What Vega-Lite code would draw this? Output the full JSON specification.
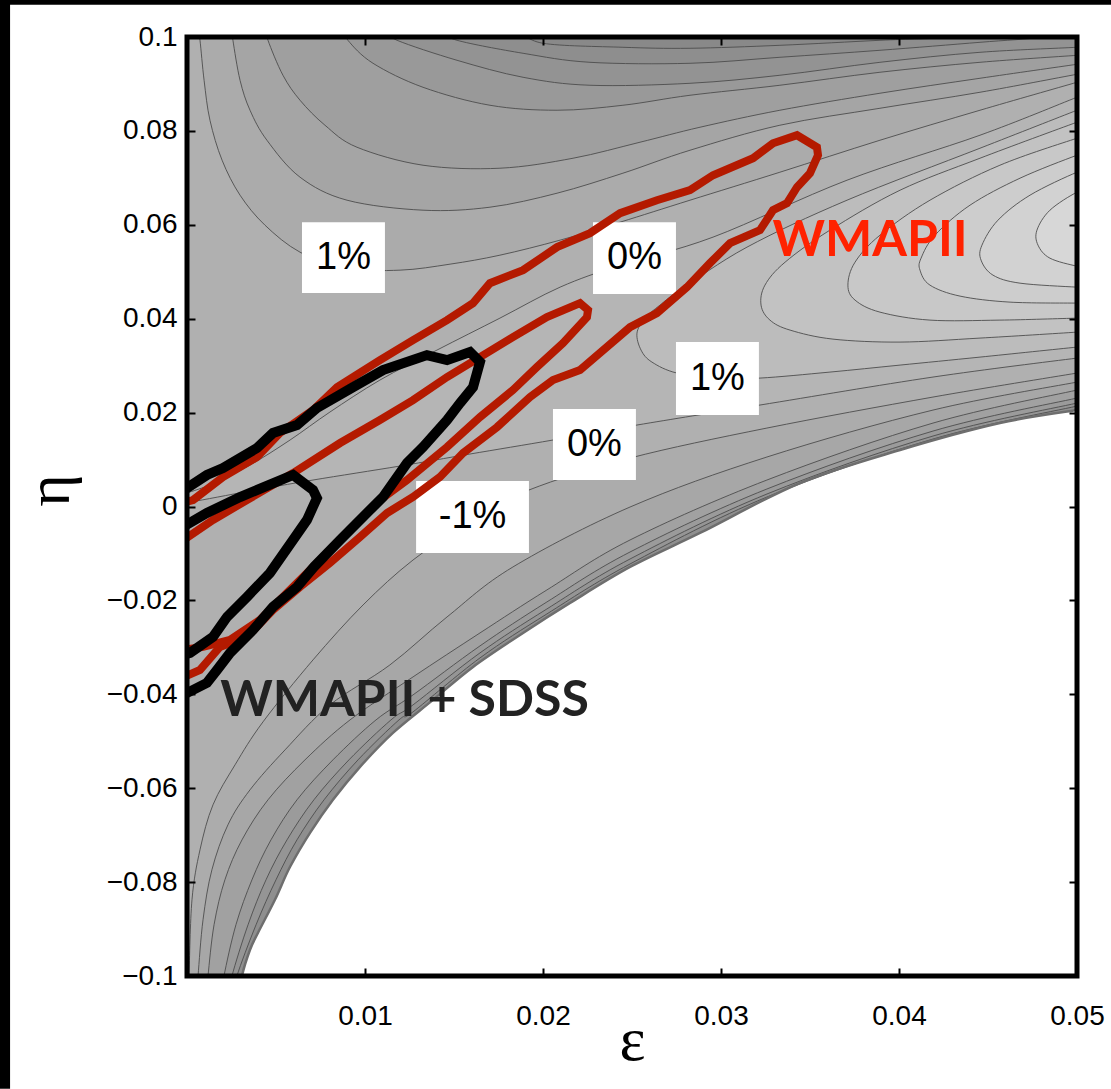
{
"$schema": "https://vega.github.io/schema/vega-lite/v6.json",
"width": 890, "height": 939,
"autosize": {"type": "none"},
"padding": {"left": 187, "top": 37, "right": 34, "bottom": 113},
"background": "white",
"config": {"view": {"stroke": null, "fill": "#b5b5b5"}},
"resolve": {"axis": {"x": "independent", "y": "independent"}},
"datasets": {
"cont": [
{"s":"L8","i":0,"x":-0.00096,"y":0.00181},{"s":"L8","i":1,"x":0.00129,"y":0.00458},{"s":"L8","i":2,"x":0.00354,"y":0.00883},{"s":"L8","i":3,"x":0.00579,"y":0.01416},{"s":"L8","i":4,"x":0.00803,"y":0.02012},{"s":"L8","i":5,"x":0.01084,"y":0.02693},{"s":"L8","i":6,"x":0.01404,"y":0.03331},{"s":"L8","i":7,"x":0.01758,"y":0.04012},{"s":"L8","i":8,"x":0.02096,"y":0.04672},{"s":"L8","i":9,"x":0.02433,"y":0.0514},{"s":"L8","i":10,"x":0.02955,"y":0.05737},{"s":"L8","i":11,"x":0.03708,"y":0.0695},{"s":"L8","i":12,"x":0.04455,"y":0.07908},{"s":"L8","i":13,"x":0.05,"y":0.08717},{"s":"L8","i":14,"x":0.05073,"y":0.08823},{"s":"L8","i":15,"x":0.05129,"y":0.10355,"k":1},{"s":"L8","i":16,"x":-0.00096,"y":0.10355,"k":1},
{"s":"c1","i":0,"x":0.00062,"y":0.10143},{"s":"c1","i":1,"x":0.00073,"y":0.0993},{"s":"c1","i":2,"x":0.00096,"y":0.09078},{"s":"c1","i":3,"x":0.00129,"y":0.08227},{"s":"c1","i":4,"x":0.00197,"y":0.07376},{"s":"c1","i":5,"x":0.00298,"y":0.06631},{"s":"c1","i":6,"x":0.00438,"y":0.05992},{"s":"c1","i":7,"x":0.00635,"y":0.05417},{"s":"c1","i":8,"x":0.00888,"y":0.05076},{"s":"c1","i":9,"x":0.01197,"y":0.05034},{"s":"c1","i":10,"x":0.01478,"y":0.05162},{"s":"c1","i":11,"x":0.01758,"y":0.05353},{"s":"c1","i":12,"x":0.02096,"y":0.05673},{"s":"c1","i":13,"x":0.02433,"y":0.06056},{"s":"c1","i":14,"x":0.02826,"y":0.06524},{"s":"c1","i":15,"x":0.03331,"y":0.0712},{"s":"c1","i":16,"x":0.03893,"y":0.07801},{"s":"c1","i":17,"x":0.04455,"y":0.0844},{"s":"c1","i":18,"x":0.05,"y":0.09036},{"s":"c1","i":19,"x":0.05073,"y":0.09121},{"s":"c1","i":20,"x":0.05129,"y":0.10355,"k":1},
{"s":"c2","i":0,"x":0.00253,"y":0.10143},{"s":"c2","i":1,"x":0.00258,"y":0.0993},{"s":"c2","i":2,"x":0.00298,"y":0.09078},{"s":"c2","i":3,"x":0.00354,"y":0.0844},{"s":"c2","i":4,"x":0.00449,"y":0.07801},{"s":"c2","i":5,"x":0.00635,"y":0.07014},{"s":"c2","i":6,"x":0.00899,"y":0.06524},{"s":"c2","i":7,"x":0.01326,"y":0.06311},{"s":"c2","i":8,"x":0.01702,"y":0.06375},{"s":"c2","i":9,"x":0.02079,"y":0.06673},{"s":"c2","i":10,"x":0.02449,"y":0.07099},{"s":"c2","i":11,"x":0.02826,"y":0.07588},{"s":"c2","i":12,"x":0.03331,"y":0.08121},{"s":"c2","i":13,"x":0.03893,"y":0.08482},{"s":"c2","i":14,"x":0.04455,"y":0.08823},{"s":"c2","i":15,"x":0.05,"y":0.09206},{"s":"c2","i":16,"x":0.05073,"y":0.09249},{"s":"c2","i":17,"x":0.05129,"y":0.10355,"k":1},
{"s":"c3","i":0,"x":0.00449,"y":0.10143},{"s":"c3","i":1,"x":0.00455,"y":0.0993},{"s":"c3","i":2,"x":0.00539,"y":0.09185},{"s":"c3","i":3,"x":0.00635,"y":0.08653},{"s":"c3","i":4,"x":0.00775,"y":0.08121},{"s":"c3","i":5,"x":0.00955,"y":0.07652},{"s":"c3","i":6,"x":0.01326,"y":0.07269},{"s":"c3","i":7,"x":0.01758,"y":0.07205},{"s":"c3","i":8,"x":0.02169,"y":0.07418},{"s":"c3","i":9,"x":0.02545,"y":0.07759},{"s":"c3","i":10,"x":0.02882,"y":0.08078},{"s":"c3","i":11,"x":0.03331,"y":0.0844},{"s":"c3","i":12,"x":0.03893,"y":0.08802},{"s":"c3","i":13,"x":0.04455,"y":0.09121},{"s":"c3","i":14,"x":0.05,"y":0.09419},{"s":"c3","i":15,"x":0.05073,"y":0.09461},{"s":"c3","i":16,"x":0.05129,"y":0.10355,"k":1},
{"s":"c4","i":0,"x":0.00888,"y":0.10143},{"s":"c4","i":1,"x":0.00904,"y":0.0993},{"s":"c4","i":2,"x":0.01045,"y":0.0944},{"s":"c4","i":3,"x":0.01326,"y":0.08929},{"s":"c4","i":4,"x":0.01702,"y":0.08546},{"s":"c4","i":5,"x":0.02079,"y":0.0844},{"s":"c4","i":6,"x":0.02449,"y":0.08546},{"s":"c4","i":7,"x":0.02826,"y":0.08759},{"s":"c4","i":8,"x":0.03331,"y":0.08972},{"s":"c4","i":9,"x":0.03893,"y":0.09249},{"s":"c4","i":10,"x":0.04455,"y":0.09461},{"s":"c4","i":11,"x":0.05,"y":0.0961},{"s":"c4","i":12,"x":0.05073,"y":0.09632},{"s":"c4","i":13,"x":0.05129,"y":0.10355,"k":1},
{"s":"c5","i":0,"x":0.01112,"y":0.10143},{"s":"c5","i":1,"x":0.0118,"y":0.0993},{"s":"c5","i":2,"x":0.01517,"y":0.09504},{"s":"c5","i":3,"x":0.01888,"y":0.09142},{"s":"c5","i":4,"x":0.02264,"y":0.08972},{"s":"c5","i":5,"x":0.02826,"y":0.09014},{"s":"c5","i":6,"x":0.03331,"y":0.09185},{"s":"c5","i":7,"x":0.03893,"y":0.09461},{"s":"c5","i":8,"x":0.04455,"y":0.09674},{"s":"c5","i":9,"x":0.05,"y":0.09781},{"s":"c5","i":10,"x":0.05073,"y":0.09802},{"s":"c5","i":11,"x":0.05129,"y":0.10355,"k":1},
{"s":"c6","i":0,"x":0.01421,"y":0.10143},{"s":"c6","i":1,"x":0.01517,"y":0.0993},{"s":"c6","i":2,"x":0.01888,"y":0.09653},{"s":"c6","i":3,"x":0.02264,"y":0.09461},{"s":"c6","i":4,"x":0.02826,"y":0.0944},{"s":"c6","i":5,"x":0.03331,"y":0.09568},{"s":"c6","i":6,"x":0.03893,"y":0.09717},{"s":"c6","i":7,"x":0.04455,"y":0.09887},{"s":"c6","i":8,"x":0.04792,"y":0.09994},{"s":"c6","i":9,"x":0.04904,"y":0.10143},
{"s":"c7","i":0,"x":0.01871,"y":0.10143},{"s":"c7","i":1,"x":0.02,"y":0.09866},{"s":"c7","i":2,"x":0.02449,"y":0.09781},{"s":"c7","i":3,"x":0.02826,"y":0.0976},{"s":"c7","i":4,"x":0.03331,"y":0.09823},{"s":"c7","i":5,"x":0.03893,"y":0.0993},{"s":"c7","i":6,"x":0.0427,"y":0.09994},{"s":"c7","i":7,"x":0.04343,"y":0.10143},
{"s":"Z0","i":0,"x":-0.00096,"y":0.00075},{"s":"Z0","i":1,"x":0.00017,"y":0.00096},{"s":"Z0","i":2,"x":0.00354,"y":0.0033},{"s":"Z0","i":3,"x":0.00708,"y":0.00564},{"s":"Z0","i":4,"x":0.01197,"y":0.00862},{"s":"Z0","i":5,"x":0.0159,"y":0.01118},{"s":"Z0","i":6,"x":0.02056,"y":0.01416},{"s":"Z0","i":7,"x":0.02528,"y":0.01735},{"s":"Z0","i":8,"x":0.03219,"y":0.02161},{"s":"Z0","i":9,"x":0.04191,"y":0.02757},{"s":"Z0","i":10,"x":0.05,"y":0.03161},{"s":"Z0","i":11,"x":0.05073,"y":0.03182},{"s":"Z0","i":12,"x":0.05129,"y":-0.10505,"k":1},{"s":"Z0","i":13,"x":-0.00096,"y":-0.10505,"k":1},
{"s":"Z1","i":0,"x":0.00006,"y":-0.10292},{"s":"Z1","i":1,"x":0.00011,"y":-0.09994},{"s":"Z1","i":2,"x":0.00028,"y":-0.08376},{"s":"Z1","i":3,"x":0.00073,"y":-0.07312},{"s":"Z1","i":4,"x":0.00146,"y":-0.06354},{"s":"Z1","i":5,"x":0.0027,"y":-0.05502},{"s":"Z1","i":6,"x":0.00427,"y":-0.04587},{"s":"Z1","i":7,"x":0.00708,"y":-0.03267},{"s":"Z1","i":8,"x":0.00989,"y":-0.02097},{"s":"Z1","i":9,"x":0.0127,"y":-0.01139},{"s":"Z1","i":10,"x":0.01601,"y":-0.00287},{"s":"Z1","i":11,"x":0.01921,"y":0.00351},{"s":"Z1","i":12,"x":0.02489,"y":0.01032},{"s":"Z1","i":13,"x":0.03258,"y":0.01671},{"s":"Z1","i":14,"x":0.04191,"y":0.02331},{"s":"Z1","i":15,"x":0.05,"y":0.02842},{"s":"Z1","i":16,"x":0.05073,"y":0.02884},{"s":"Z1","i":17,"x":0.05129,"y":-0.10505,"k":1},
{"s":"Z2","i":0,"x":0.00056,"y":-0.10292},{"s":"Z2","i":1,"x":0.00062,"y":-0.09994},{"s":"Z2","i":2,"x":0.0009,"y":-0.08802},{"s":"Z2","i":3,"x":0.0014,"y":-0.07737},{"s":"Z2","i":4,"x":0.0023,"y":-0.0678},{"s":"Z2","i":5,"x":0.00354,"y":-0.06035},{"s":"Z2","i":6,"x":0.00551,"y":-0.05183},{"s":"Z2","i":7,"x":0.00803,"y":-0.04225},{"s":"Z2","i":8,"x":0.0114,"y":-0.03374},{"s":"Z2","i":9,"x":0.01461,"y":-0.02352},{"s":"Z2","i":10,"x":0.01831,"y":-0.01288},{"s":"Z2","i":11,"x":0.02489,"y":-0.00011},{"s":"Z2","i":12,"x":0.03258,"y":0.01054},{"s":"Z2","i":13,"x":0.04191,"y":0.02054},{"s":"Z2","i":14,"x":0.05,"y":0.0265},{"s":"Z2","i":15,"x":0.05073,"y":0.02693},{"s":"Z2","i":16,"x":0.05129,"y":-0.10505,"k":1},
{"s":"Z3","i":0,"x":0.00112,"y":-0.10292},{"s":"Z3","i":1,"x":0.00118,"y":-0.09994},{"s":"Z3","i":2,"x":0.00152,"y":-0.08908},{"s":"Z3","i":3,"x":0.00213,"y":-0.0795},{"s":"Z3","i":4,"x":0.00309,"y":-0.07099},{"s":"Z3","i":5,"x":0.00455,"y":-0.06247},{"s":"Z3","i":6,"x":0.00663,"y":-0.05396},{"s":"Z3","i":7,"x":0.00916,"y":-0.04545},{"s":"Z3","i":8,"x":0.0127,"y":-0.03629},{"s":"Z3","i":9,"x":0.01646,"y":-0.02693},{"s":"Z3","i":10,"x":0.02022,"y":-0.01777},{"s":"Z3","i":11,"x":0.02489,"y":-0.00713},{"s":"Z3","i":12,"x":0.03258,"y":0.00564},{"s":"Z3","i":13,"x":0.04191,"y":0.01777},{"s":"Z3","i":14,"x":0.05,"y":0.0248},{"s":"Z3","i":15,"x":0.05073,"y":0.02522},{"s":"Z3","i":16,"x":0.05129,"y":-0.10505,"k":1},
{"s":"Z4","i":0,"x":0.00202,"y":-0.10292},{"s":"Z4","i":1,"x":0.00208,"y":-0.09994},{"s":"Z4","i":2,"x":0.00275,"y":-0.08908},{"s":"Z4","i":3,"x":0.00365,"y":-0.0795},{"s":"Z4","i":4,"x":0.00472,"y":-0.07099},{"s":"Z4","i":5,"x":0.00618,"y":-0.06247},{"s":"Z4","i":6,"x":0.0082,"y":-0.05396},{"s":"Z4","i":7,"x":0.01062,"y":-0.04545},{"s":"Z4","i":8,"x":0.0127,"y":-0.04012},{"s":"Z4","i":9,"x":0.01646,"y":-0.02969},{"s":"Z4","i":10,"x":0.02022,"y":-0.02033},{"s":"Z4","i":11,"x":0.02489,"y":-0.00969},{"s":"Z4","i":12,"x":0.03258,"y":0.00373},{"s":"Z4","i":13,"x":0.04191,"y":0.01607},{"s":"Z4","i":14,"x":0.05,"y":0.0231},{"s":"Z4","i":15,"x":0.05073,"y":0.02352},{"s":"Z4","i":16,"x":0.05129,"y":-0.10505,"k":1},
{"s":"Z5","i":0,"x":0.00247,"y":-0.10292},{"s":"Z5","i":1,"x":0.00253,"y":-0.09994},{"s":"Z5","i":2,"x":0.00343,"y":-0.08908},{"s":"Z5","i":3,"x":0.00444,"y":-0.0795},{"s":"Z5","i":4,"x":0.00562,"y":-0.07099},{"s":"Z5","i":5,"x":0.00713,"y":-0.06247},{"s":"Z5","i":6,"x":0.0091,"y":-0.05396},{"s":"Z5","i":7,"x":0.01146,"y":-0.04545},{"s":"Z5","i":8,"x":0.0127,"y":-0.04225},{"s":"Z5","i":9,"x":0.01646,"y":-0.03118},{"s":"Z5","i":10,"x":0.02022,"y":-0.02182},{"s":"Z5","i":11,"x":0.02489,"y":-0.01118},{"s":"Z5","i":12,"x":0.03258,"y":0.00266},{"s":"Z5","i":13,"x":0.04191,"y":0.01501},{"s":"Z5","i":14,"x":0.05,"y":0.02203},{"s":"Z5","i":15,"x":0.05073,"y":0.02246},{"s":"Z5","i":16,"x":0.05129,"y":-0.10505,"k":1},
{"s":"Z6","i":0,"x":0.00275,"y":-0.10292},{"s":"Z6","i":1,"x":0.00281,"y":-0.09994},{"s":"Z6","i":2,"x":0.00388,"y":-0.08908},{"s":"Z6","i":3,"x":0.005,"y":-0.0795},{"s":"Z6","i":4,"x":0.00618,"y":-0.07099},{"s":"Z6","i":5,"x":0.0077,"y":-0.06247},{"s":"Z6","i":6,"x":0.00961,"y":-0.05396},{"s":"Z6","i":7,"x":0.01191,"y":-0.04545},{"s":"Z6","i":8,"x":0.0127,"y":-0.04374},{"s":"Z6","i":9,"x":0.01646,"y":-0.03225},{"s":"Z6","i":10,"x":0.02022,"y":-0.02288},{"s":"Z6","i":11,"x":0.02489,"y":-0.01224},{"s":"Z6","i":12,"x":0.03258,"y":0.00202},{"s":"Z6","i":13,"x":0.04191,"y":0.01437},{"s":"Z6","i":14,"x":0.05,"y":0.02139},{"s":"Z6","i":15,"x":0.05073,"y":0.02182},{"s":"Z6","i":16,"x":0.05129,"y":-0.10505,"k":1},
{"s":"U1","i":0,"x":0.05073,"y":0.08546},{"s":"U1","i":1,"x":0.05,"y":0.0844},{"s":"U1","i":2,"x":0.04455,"y":0.07631},{"s":"U1","i":3,"x":0.03708,"y":0.06524},{"s":"U1","i":4,"x":0.03146,"y":0.05524},{"s":"U1","i":5,"x":0.0277,"y":0.04609},{"s":"U1","i":6,"x":0.02657,"y":0.04289},{"s":"U1","i":7,"x":0.02573,"y":0.04012},{"s":"U1","i":8,"x":0.02528,"y":0.03693},{"s":"U1","i":9,"x":0.02551,"y":0.03331},{"s":"U1","i":10,"x":0.02612,"y":0.03076},{"s":"U1","i":11,"x":0.02753,"y":0.02842},{"s":"U1","i":12,"x":0.02994,"y":0.02735},{"s":"U1","i":13,"x":0.03219,"y":0.02735},{"s":"U1","i":14,"x":0.03612,"y":0.02863},{"s":"U1","i":15,"x":0.04006,"y":0.03012},{"s":"U1","i":16,"x":0.04455,"y":0.03182},{"s":"U1","i":17,"x":0.05,"y":0.03395},{"s":"U1","i":18,"x":0.05073,"y":0.03416},
{"s":"U2","i":0,"x":0.05073,"y":0.0827},{"s":"U2","i":1,"x":0.05,"y":0.08185},{"s":"U2","i":2,"x":0.04455,"y":0.07418},{"s":"U2","i":3,"x":0.04006,"y":0.06737},{"s":"U2","i":4,"x":0.03612,"y":0.05886},{"s":"U2","i":5,"x":0.0336,"y":0.05204},{"s":"U2","i":6,"x":0.03247,"y":0.04715},{"s":"U2","i":7,"x":0.03225,"y":0.04289},{"s":"U2","i":8,"x":0.03275,"y":0.0397},{"s":"U2","i":9,"x":0.03388,"y":0.03757},{"s":"U2","i":10,"x":0.03629,"y":0.03565},{"s":"U2","i":11,"x":0.04006,"y":0.03502},{"s":"U2","i":12,"x":0.04455,"y":0.03587},{"s":"U2","i":13,"x":0.05,"y":0.03714},{"s":"U2","i":14,"x":0.05073,"y":0.03736},
{"s":"U3","i":0,"x":0.05073,"y":0.07908},{"s":"U3","i":1,"x":0.05,"y":0.07844},{"s":"U3","i":2,"x":0.04567,"y":0.07269},{"s":"U3","i":3,"x":0.04174,"y":0.06524},{"s":"U3","i":4,"x":0.03893,"y":0.05779},{"s":"U3","i":5,"x":0.03753,"y":0.05204},{"s":"U3","i":6,"x":0.03713,"y":0.04715},{"s":"U3","i":7,"x":0.03753,"y":0.04396},{"s":"U3","i":8,"x":0.03893,"y":0.0414},{"s":"U3","i":9,"x":0.04174,"y":0.0397},{"s":"U3","i":10,"x":0.04567,"y":0.0397},{"s":"U3","i":11,"x":0.05,"y":0.04012},{"s":"U3","i":12,"x":0.05073,"y":0.04012},
{"s":"U4","i":0,"x":0.05073,"y":0.07546},{"s":"U4","i":1,"x":0.05,"y":0.07482},{"s":"U4","i":2,"x":0.0468,"y":0.06993},{"s":"U4","i":3,"x":0.04399,"y":0.06418},{"s":"U4","i":4,"x":0.04202,"y":0.05779},{"s":"U4","i":5,"x":0.04124,"y":0.05289},{"s":"U4","i":6,"x":0.04118,"y":0.05034},{"s":"U4","i":7,"x":0.04174,"y":0.04715},{"s":"U4","i":8,"x":0.04343,"y":0.04481},{"s":"U4","i":9,"x":0.04624,"y":0.04353},{"s":"U4","i":10,"x":0.05,"y":0.04332},{"s":"U4","i":11,"x":0.05073,"y":0.04332},
{"s":"U5","i":0,"x":0.05073,"y":0.07163},{"s":"U5","i":1,"x":0.05,"y":0.0712},{"s":"U5","i":2,"x":0.04736,"y":0.06631},{"s":"U5","i":3,"x":0.04556,"y":0.06098},{"s":"U5","i":4,"x":0.04466,"y":0.05566},{"s":"U5","i":5,"x":0.04461,"y":0.05247},{"s":"U5","i":6,"x":0.04528,"y":0.04928},{"s":"U5","i":7,"x":0.0468,"y":0.04757},{"s":"U5","i":8,"x":0.05,"y":0.04672},{"s":"U5","i":9,"x":0.05073,"y":0.04672},
{"s":"U6","i":0,"x":0.05073,"y":0.06737},{"s":"U6","i":1,"x":0.05,"y":0.06695},{"s":"U6","i":2,"x":0.04848,"y":0.06311},{"s":"U6","i":3,"x":0.04775,"y":0.05886},{"s":"U6","i":4,"x":0.04781,"y":0.05566},{"s":"U6","i":5,"x":0.04848,"y":0.05289},{"s":"U6","i":6,"x":0.05,"y":0.05119},{"s":"U6","i":7,"x":0.05073,"y":0.05098},
{"s":"B","i":0,"x":0.00303,"y":-0.10292},{"s":"B","i":1,"x":0.00309,"y":-0.09994},{"s":"B","i":2,"x":0.00354,"y":-0.0944},{"s":"B","i":3,"x":0.00399,"y":-0.09078},{"s":"B","i":4,"x":0.00494,"y":-0.08376},{"s":"B","i":5,"x":0.00579,"y":-0.07674},{"s":"B","i":6,"x":0.00691,"y":-0.0695},{"s":"B","i":7,"x":0.0082,"y":-0.06247},{"s":"B","i":8,"x":0.00972,"y":-0.05545},{"s":"B","i":9,"x":0.01157,"y":-0.04821},{"s":"B","i":10,"x":0.01382,"y":-0.04119},{"s":"B","i":11,"x":0.01607,"y":-0.03416},{"s":"B","i":12,"x":0.01888,"y":-0.02693},{"s":"B","i":13,"x":0.02152,"y":-0.02054},{"s":"B","i":14,"x":0.02489,"y":-0.01288},{"s":"B","i":15,"x":0.02882,"y":-0.00564},{"s":"B","i":16,"x":0.03444,"y":0.005},{"s":"B","i":17,"x":0.04006,"y":0.01203},{"s":"B","i":18,"x":0.04567,"y":0.01777},{"s":"B","i":19,"x":0.05,"y":0.02054},{"s":"B","i":20,"x":0.05073,"y":0.02075},{"s":"B","i":21,"x":0.05129,"y":-0.10505,"k":1}
],
"thick": [
{"s":"ro","i":0,"x":-0.0003,"y":0.0007},{"s":"ro","i":1,"x":0.00034,"y":0.00138},{"s":"ro","i":2,"x":0.00202,"y":0.00628},{"s":"ro","i":3,"x":0.00393,"y":0.01054},{"s":"ro","i":4,"x":0.00522,"y":0.01565},{"s":"ro","i":5,"x":0.00708,"y":0.02054},{"s":"ro","i":6,"x":0.00843,"y":0.02544},{"s":"ro","i":7,"x":0.01084,"y":0.03118},{"s":"ro","i":8,"x":0.0127,"y":0.03544},{"s":"ro","i":9,"x":0.01461,"y":0.0397},{"s":"ro","i":10,"x":0.01607,"y":0.04332},{"s":"ro","i":11,"x":0.01702,"y":0.04757},{"s":"ro","i":12,"x":0.01888,"y":0.05034},{"s":"ro","i":13,"x":0.02079,"y":0.05524},{"s":"ro","i":14,"x":0.02264,"y":0.05822},{"s":"ro","i":15,"x":0.02433,"y":0.06247},{"s":"ro","i":16,"x":0.0264,"y":0.06524},{"s":"ro","i":17,"x":0.02826,"y":0.06737},{"s":"ro","i":18,"x":0.02955,"y":0.07056},{"s":"ro","i":19,"x":0.0318,"y":0.07418},{"s":"ro","i":20,"x":0.03292,"y":0.07737},{"s":"ro","i":21,"x":0.03427,"y":0.07908},{"s":"ro","i":22,"x":0.03539,"y":0.07652},{"s":"ro","i":23,"x":0.03545,"y":0.07482},{"s":"ro","i":24,"x":0.035,"y":0.07099},{"s":"ro","i":25,"x":0.03427,"y":0.06801},{"s":"ro","i":26,"x":0.03371,"y":0.0646},{"s":"ro","i":27,"x":0.03292,"y":0.06311},{"s":"ro","i":28,"x":0.03219,"y":0.05886},{"s":"ro","i":29,"x":0.03051,"y":0.05609},{"s":"ro","i":30,"x":0.02938,"y":0.05183},{"s":"ro","i":31,"x":0.02809,"y":0.04672},{"s":"ro","i":32,"x":0.0264,"y":0.04119},{"s":"ro","i":33,"x":0.02489,"y":0.03821},{"s":"ro","i":34,"x":0.02208,"y":0.02906},{"s":"ro","i":35,"x":0.02056,"y":0.02693},{"s":"ro","i":36,"x":0.01927,"y":0.02331},{"s":"ro","i":37,"x":0.01742,"y":0.01692},{"s":"ro","i":38,"x":0.01551,"y":0.01139},{"s":"ro","i":39,"x":0.01421,"y":0.00628},{"s":"ro","i":40,"x":0.0127,"y":0.00202},{"s":"ro","i":41,"x":0.01124,"y":-0.00138},{"s":"ro","i":42,"x":0.00972,"y":-0.00649},{"s":"ro","i":43,"x":0.00803,"y":-0.01203},{"s":"ro","i":44,"x":0.00635,"y":-0.01714},{"s":"ro","i":45,"x":0.00483,"y":-0.02203},{"s":"ro","i":46,"x":0.00337,"y":-0.02778},{"s":"ro","i":47,"x":0.00185,"y":-0.02991},{"s":"ro","i":48,"x":0.00073,"y":-0.0348},{"s":"ro","i":49,"x":-0.0003,"y":-0.0365},
{"s":"ri","i":0,"x":-0.0003,"y":-0.0074},{"s":"ri","i":1,"x":0.00146,"y":-0.00287},{"s":"ri","i":2,"x":0.00337,"y":0.00138},{"s":"ri","i":3,"x":0.00596,"y":0.00713},{"s":"ri","i":4,"x":0.0086,"y":0.01352},{"s":"ri","i":5,"x":0.01084,"y":0.01841},{"s":"ri","i":6,"x":0.0127,"y":0.02267},{"s":"ri","i":7,"x":0.01461,"y":0.02757},{"s":"ri","i":8,"x":0.01646,"y":0.03182},{"s":"ri","i":9,"x":0.01831,"y":0.03608},{"s":"ri","i":10,"x":0.02022,"y":0.04034},{"s":"ri","i":11,"x":0.02208,"y":0.04332},{"s":"ri","i":12,"x":0.02253,"y":0.04183},{"s":"ri","i":13,"x":0.02247,"y":0.04034},{"s":"ri","i":14,"x":0.02112,"y":0.0348},{"s":"ri","i":15,"x":0.01966,"y":0.0297},{"s":"ri","i":16,"x":0.01831,"y":0.0248},{"s":"ri","i":17,"x":0.01646,"y":0.01905},{"s":"ri","i":18,"x":0.01461,"y":0.01267},{"s":"ri","i":19,"x":0.01236,"y":0.00564},{"s":"ri","i":20,"x":0.01084,"y":0.00138},{"s":"ri","i":21,"x":0.00899,"y":-0.00564},{"s":"ri","i":22,"x":0.00708,"y":-0.01288},{"s":"ri","i":23,"x":0.00562,"y":-0.01841},{"s":"ri","i":24,"x":0.0041,"y":-0.02416},{"s":"ri","i":25,"x":0.00242,"y":-0.02842},{"s":"ri","i":26,"x":0.0009,"y":-0.02991},{"s":"ri","i":27,"x":-0.0003,"y":-0.0306},
{"s":"bo","i":0,"x":-0.0003,"y":0.0032},{"s":"bo","i":1,"x":0.00112,"y":0.00671},{"s":"bo","i":2,"x":0.00202,"y":0.0082},{"s":"bo","i":3,"x":0.00393,"y":0.01245},{"s":"bo","i":4,"x":0.00483,"y":0.01565},{"s":"bo","i":5,"x":0.00618,"y":0.01735},{"s":"bo","i":6,"x":0.0073,"y":0.02097},{"s":"bo","i":7,"x":0.00933,"y":0.02544},{"s":"bo","i":8,"x":0.01101,"y":0.02906},{"s":"bo","i":9,"x":0.01348,"y":0.03225},{"s":"bo","i":10,"x":0.01461,"y":0.03118},{"s":"bo","i":11,"x":0.0159,"y":0.03289},{"s":"bo","i":12,"x":0.01646,"y":0.03076},{"s":"bo","i":13,"x":0.01607,"y":0.02544},{"s":"bo","i":14,"x":0.01534,"y":0.02203},{"s":"bo","i":15,"x":0.01461,"y":0.01841},{"s":"bo","i":16,"x":0.01326,"y":0.01267},{"s":"bo","i":17,"x":0.01236,"y":0.00926},{"s":"bo","i":18,"x":0.01101,"y":0.00202},{"s":"bo","i":19,"x":0.01011,"y":-0.00138},{"s":"bo","i":20,"x":0.0086,"y":-0.00713},{"s":"bo","i":21,"x":0.00713,"y":-0.01288},{"s":"bo","i":22,"x":0.00618,"y":-0.01714},{"s":"bo","i":23,"x":0.00483,"y":-0.02139},{"s":"bo","i":24,"x":0.00371,"y":-0.02629},{"s":"bo","i":25,"x":0.00242,"y":-0.03118},{"s":"bo","i":26,"x":0.00169,"y":-0.0348},{"s":"bo","i":27,"x":0.00112,"y":-0.03757},{"s":"bo","i":28,"x":-0.0003,"y":-0.0403},
{"s":"bi","i":0,"x":-0.0003,"y":-0.0045},{"s":"bi","i":1,"x":0.00112,"y":-0.00138},{"s":"bi","i":2,"x":0.00298,"y":0.00202},{"s":"bi","i":3,"x":0.00596,"y":0.00671},{"s":"bi","i":4,"x":0.00708,"y":0.00351},{"s":"bi","i":5,"x":0.0073,"y":0.00181},{"s":"bi","i":6,"x":0.00674,"y":-0.00287},{"s":"bi","i":7,"x":0.00596,"y":-0.00713},{"s":"bi","i":8,"x":0.00466,"y":-0.01416},{"s":"bi","i":9,"x":0.00337,"y":-0.01926},{"s":"bi","i":10,"x":0.00225,"y":-0.02352},{"s":"bi","i":11,"x":0.00146,"y":-0.02778},{"s":"bi","i":12,"x":0.00017,"y":-0.03118},{"s":"bi","i":13,"x":-0.0003,"y":-0.0317}
],
"labs": [
{"t":"1%","x":0.00879,"y":0.053,"x1":0.00646,"x2":0.01112,"y1":0.06056,"y2":0.04545},
{"t":"0%","x":0.02514,"y":0.0529,"x1":0.02281,"x2":0.02747,"y1":0.06056,"y2":0.04524},
{"t":"1%","x":0.0298,"y":0.02725,"x1":0.02747,"x2":0.03213,"y1":0.03502,"y2":0.01948},
{"t":"0%","x":0.02289,"y":0.0132,"x1":0.02056,"x2":0.02522,"y1":0.02075,"y2":0.00564},
{"t":"-1%","x":0.01604,"y":-0.00223,"x1":0.01287,"x2":0.01921,"y1":0.00543,"y2":-0.0099}
]
},
"layer": [
{
"data": {"name": "cont"},
"mark": {"type": "line", "interpolate": "cardinal", "strokeWidth": 0, "clip": true},
"encoding": {
"x": {"field": "x", "type": "quantitative", "scale": {"domain": [0, 0.05], "nice": false, "zero": false},
 "axis": {"orient": "bottom", "values": [0.01, 0.02, 0.03, 0.04, 0.05], "format": "~g", "ticks": false, "domain": false, "grid": false, "labelFont": "Liberation Sans", "labelFontSize": 28, "labelColor": "black", "labelPadding": 26, "labelFlush": false, "labelOverlap": false, "title": "ε", "titleFont": "Liberation Serif", "titleFontSize": 62, "titleFontWeight": "normal", "titleColor": "black", "titleX": 445, "titleY": 83, "titleBaseline": "alphabetic", "titleAlign": "center"}},
"y": {"field": "y", "type": "quantitative", "scale": {"domain": [-0.1, 0.1], "nice": false, "zero": false},
 "axis": {"orient": "left", "values": [-0.1, -0.08, -0.06, -0.04, -0.02, 0, 0.02, 0.04, 0.06, 0.08, 0.1], "format": "~g", "ticks": false, "domain": false, "grid": false, "labelFont": "Liberation Sans", "labelFontSize": 28, "labelColor": "black", "labelPadding": 10, "labelFlush": false, "labelOverlap": false, "title": "η", "titleFont": "Liberation Serif", "titleFontSize": 62, "titleFontWeight": "normal", "titleColor": "black", "titleAngle": 270, "titleX": -119, "titleY": 453, "titleBaseline": "alphabetic", "titleAlign": "center"}},
"fill": {"field": "s", "type": "nominal", "legend": null,
 "scale": {"domain": ["L8","c1","c2","c3","c4","c5","c6","c7","Z0","Z1","Z2","Z3","Z4","Z5","Z6","U1","U2","U3","U4","U5","U6","B"],
 "range": ["#b0b0b0","#ababab","#a5a5a5","#9f9f9f","#999999","#939393","#8e8e8e","#898989","#b0b0b0","#acacac","#a7a7a7","#a1a1a1","#9b9b9b","#959595","#8f8f8f","#bcbcbc","#c2c2c2","#c8c8c8","#cdcdcd","#d2d2d2","#d7d7d7","#ffffff"]}},
"order": {"field": "i", "type": "quantitative"}
}
},
{
"data": {"name": "cont"},
"transform": [{"filter": "!datum.k && datum.s != 'B'"}],
"mark": {"type": "line", "interpolate": "cardinal", "stroke": "#4d4d4d", "strokeWidth": 0.9, "clip": true},
"encoding": {
"x": {"field": "x", "type": "quantitative", "scale": {"domain": [0, 0.05], "nice": false, "zero": false},
 "axis": {"orient": "bottom", "zindex": 1, "values": [0.01, 0.02, 0.03, 0.04], "labels": false, "domain": false, "grid": false, "ticks": true, "tickSize": 8, "tickWidth": 2, "tickColor": "black", "offset": -8, "title": null}},
"y": {"field": "y", "type": "quantitative", "scale": {"domain": [-0.1, 0.1], "nice": false, "zero": false},
 "axis": {"orient": "left", "zindex": 1, "values": [-0.08, -0.06, -0.04, -0.02, 0, 0.02, 0.04, 0.06, 0.08], "labels": false, "domain": false, "grid": false, "ticks": true, "tickSize": 8, "tickWidth": 2, "tickColor": "black", "offset": -8, "title": null}},
"detail": {"field": "s", "type": "nominal"},
"order": {"field": "i", "type": "quantitative"}
}
},
{
"data": {"name": "cont"},
"transform": [{"filter": "!datum.k && datum.s == 'B'"}],
"mark": {"type": "line", "interpolate": "cardinal", "stroke": "#6e6e6e", "strokeWidth": 2.5, "clip": true},
"encoding": {
"x": {"field": "x", "type": "quantitative", "scale": {"domain": [0, 0.05], "nice": false, "zero": false},
 "axis": {"orient": "top", "zindex": 1, "values": [0.01, 0.02, 0.03, 0.04], "labels": false, "domain": false, "grid": false, "ticks": true, "tickSize": 8, "tickWidth": 2, "tickColor": "black", "offset": -8, "title": null}},
"y": {"field": "y", "type": "quantitative", "scale": {"domain": [-0.1, 0.1], "nice": false, "zero": false},
 "axis": {"orient": "right", "zindex": 1, "values": [-0.08, -0.06, -0.04, -0.02, 0, 0.02, 0.04, 0.06, 0.08], "labels": false, "domain": false, "grid": false, "ticks": true, "tickSize": 8, "tickWidth": 2, "tickColor": "black", "offset": -8, "title": null}},
"order": {"field": "i", "type": "quantitative"}
}
},
{
"data": {"name": "labs"},
"mark": {"type": "rect", "fill": "white", "strokeWidth": 0},
"encoding": {
"x": {"field": "x1", "type": "quantitative", "scale": {"domain": [0, 0.05], "nice": false, "zero": false}, "axis": null},
"x2": {"field": "x2"},
"y": {"field": "y1", "type": "quantitative", "scale": {"domain": [-0.1, 0.1], "nice": false, "zero": false}, "axis": null},
"y2": {"field": "y2"}
}
},
{
"data": {"name": "labs"},
"mark": {"type": "text", "font": "Liberation Sans", "fontSize": 38, "color": "black", "align": "center", "baseline": "middle"},
"encoding": {
"x": {"field": "x", "type": "quantitative", "scale": {"domain": [0, 0.05], "nice": false, "zero": false}, "axis": null},
"y": {"field": "y", "type": "quantitative", "scale": {"domain": [-0.1, 0.1], "nice": false, "zero": false}, "axis": null},
"text": {"field": "t"}
}
},
{
"data": {"name": "thick"},
"transform": [{"filter": {"field": "s", "oneOf": ["ro", "ri"]}}],
"mark": {"type": "line", "stroke": "#b41a00", "strokeWidth": 8, "clip": true},
"encoding": {
"x": {"field": "x", "type": "quantitative", "scale": {"domain": [0, 0.05], "nice": false, "zero": false}, "axis": null},
"y": {"field": "y", "type": "quantitative", "scale": {"domain": [-0.1, 0.1], "nice": false, "zero": false}, "axis": null},
"detail": {"field": "s", "type": "nominal"},
"order": {"field": "i", "type": "quantitative"}
}
},
{
"data": {"name": "thick"},
"transform": [{"filter": {"field": "s", "oneOf": ["bo", "bi"]}}],
"mark": {"type": "line", "stroke": "#000000", "strokeWidth": 10, "clip": true},
"encoding": {
"x": {"field": "x", "type": "quantitative", "scale": {"domain": [0, 0.05], "nice": false, "zero": false}, "axis": null},
"y": {"field": "y", "type": "quantitative", "scale": {"domain": [-0.1, 0.1], "nice": false, "zero": false}, "axis": null},
"detail": {"field": "s", "type": "nominal"},
"order": {"field": "i", "type": "quantitative"}
}
},
{
"data": {"values": [{"t": "WMAPII", "x": 0.03837, "y": 0.05332}]},
"mark": {"type": "text", "font": "Lato", "fontWeight": "bold", "fontSize": 50, "color": "#ff2200", "align": "center", "baseline": "alphabetic"},
"encoding": {
"x": {"field": "x", "type": "quantitative", "scale": {"domain": [0, 0.05], "nice": false, "zero": false}, "axis": null},
"y": {"field": "y", "type": "quantitative", "scale": {"domain": [-0.1, 0.1], "nice": false, "zero": false}, "axis": null},
"text": {"field": "t"}
}
},
{
"data": {"values": [{"t": "WMAPII + SDSS", "x": 0.01222, "y": -0.04459}]},
"mark": {"type": "text", "font": "Lato", "fontWeight": "bold", "fontSize": 50, "color": "#222222", "align": "center", "baseline": "alphabetic"},
"encoding": {
"x": {"field": "x", "type": "quantitative", "scale": {"domain": [0, 0.05], "nice": false, "zero": false}, "axis": null},
"y": {"field": "y", "type": "quantitative", "scale": {"domain": [-0.1, 0.1], "nice": false, "zero": false}, "axis": null},
"text": {"field": "t"}
}
},
{
"data": {"values": [{}]},
"mark": {"type": "rect", "fill": "white", "fillOpacity": 0, "stroke": "black", "strokeWidth": 5, "clip": false},
"encoding": {
"x": {"datum": 0, "type": "quantitative", "scale": {"domain": [0, 0.05], "nice": false, "zero": false}, "axis": null},
"x2": {"datum": 0.05},
"y": {"datum": -0.1, "type": "quantitative", "scale": {"domain": [-0.1, 0.1], "nice": false, "zero": false}, "axis": null},
"y2": {"datum": 0.1}
}
},
{
"data": {"values": [{}]},
"mark": {"type": "rect", "fill": "black", "strokeWidth": 0, "clip": false},
"encoding": {
"x": {"datum": -0.0106, "type": "quantitative", "scale": {"domain": [0, 0.05], "nice": false, "zero": false}, "axis": null},
"x2": {"datum": 0.0525},
"y": {"datum": 0.1079, "type": "quantitative", "scale": {"domain": [-0.1, 0.1], "nice": false, "zero": false}, "axis": null},
"y2": {"datum": 0.10688}
}
},
{
"data": {"values": [{}]},
"mark": {"type": "rect", "fill": "black", "strokeWidth": 0, "clip": false},
"encoding": {
"x": {"datum": -0.0106, "type": "quantitative", "scale": {"domain": [0, 0.05], "nice": false, "zero": false}, "axis": null},
"x2": {"datum": -0.00994},
"y": {"datum": 0.1079, "type": "quantitative", "scale": {"domain": [-0.1, 0.1], "nice": false, "zero": false}, "axis": null},
"y2": {"datum": -0.124}
}
}
]
}
